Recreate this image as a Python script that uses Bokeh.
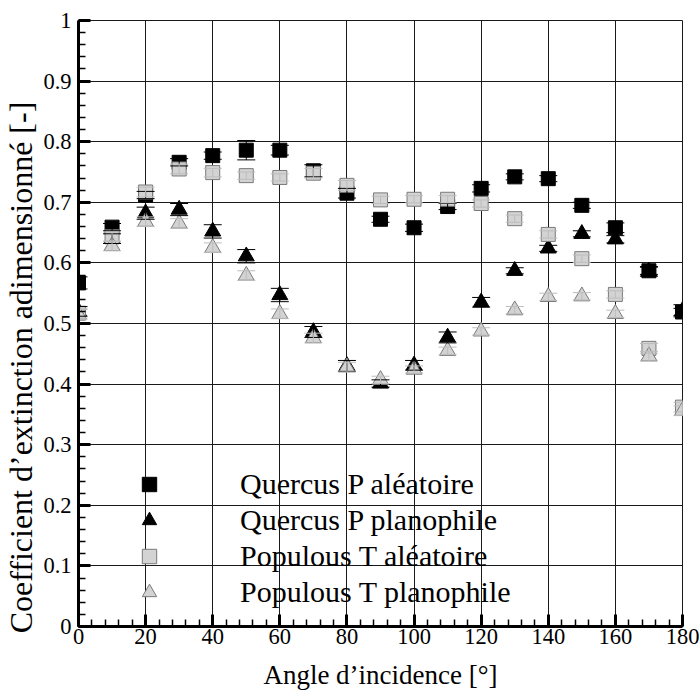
import math
from bokeh.plotting import figure
from bokeh.models import (ColumnDataSource, Range1d, FixedTicker, Whisker, TeeHead,
                          Legend, LegendItem, CustomJSTickFormatter)
from bokeh.embed import file_html
from bokeh.resources import INLINE

# ---- data ----
angles = [0, 10, 20, 30, 40, 50, 60, 70, 80, 90, 100, 110, 120, 130, 140, 150, 160, 170, 180]

quercus_alea = [0.567, 0.659, 0.712, 0.766, 0.777, 0.786, 0.786, 0.752, 0.715, 0.672,
                0.658, 0.693, 0.723, 0.742, 0.739, 0.695, 0.658, 0.587, 0.519]
quercus_alea_err = [0.010, 0.006, 0.006, 0.006, 0.006, 0.016, 0.008, 0.010, 0.008, 0.005,
                    0.006, 0.005, 0.006, 0.005, 0.005, 0.005, 0.008, 0.006, 0.006]

quercus_plan = [0.520, 0.640, 0.682, 0.688, 0.652, 0.611, 0.547, 0.486, 0.430, 0.401,
                0.431, 0.477, 0.535, 0.587, 0.624, 0.648, 0.639, 0.586, 0.521]
quercus_plan_err = [0.008, 0.008, 0.010, 0.010, 0.011, 0.011, 0.011, 0.009, 0.009, 0.006,
                    0.008, 0.009, 0.008, 0.005, 0.005, 0.005, 0.006, 0.008, 0.010]

populous_alea = [0.517, 0.643, 0.717, 0.755, 0.749, 0.744, 0.741, 0.748, 0.728, 0.704,
                 0.705, 0.705, 0.698, 0.673, 0.647, 0.607, 0.548, 0.459, 0.362]
populous_alea_err = [0.008, 0.008, 0.008, 0.008, 0.007, 0.006, 0.006, 0.008, 0.008, 0.006,
                     0.006, 0.006, 0.006, 0.006, 0.006, 0.006, 0.006, 0.008, 0.008]

populous_plan = [0.515, 0.628, 0.668, 0.665, 0.625, 0.579, 0.516, 0.476, 0.428, 0.407,
                 0.424, 0.455, 0.487, 0.522, 0.544, 0.545, 0.516, 0.446, 0.356]
populous_plan_err = [0.008, 0.008, 0.008, 0.008, 0.008, 0.008, 0.008, 0.008, 0.008, 0.006,
                     0.006, 0.006, 0.006, 0.006, 0.006, 0.006, 0.006, 0.008, 0.008]

series_labels = ["Quercus P aléatoire", "Quercus P planophile",
                 "Populous T aléatoire", "Populous T planophile"]

x_ticks = [0, 20, 40, 60, 80, 100, 120, 140, 160, 180]
y_ticks = [0, 0.1, 0.2, 0.3, 0.4, 0.5, 0.6, 0.7, 0.8, 0.9, 1]

x_title = "Angle d’incidence [°]"
y_title = "Coefficient d’extinction adimensionné [-]"

FONT = "Liberation Serif"

p = figure(width=700, height=693, output_backend="svg", toolbar_location=None,
           x_range=Range1d(0, 180), y_range=Range1d(0, 1),
           min_border_left=76, min_border_right=18, min_border_top=20, min_border_bottom=67)
p.background_fill_color = "white"
p.border_fill_color = "white"
p.outline_line_color = "#1a1a1a"
p.outline_line_width = 1

p.xaxis.ticker = FixedTicker(ticks=x_ticks, minor_ticks=list(range(0, 181, 4)))
p.yaxis.ticker = FixedTicker(ticks=y_ticks, minor_ticks=[i / 50 for i in range(51)])
p.xgrid.ticker = FixedTicker(ticks=x_ticks)
p.ygrid.ticker = FixedTicker(ticks=y_ticks)
p.yaxis.formatter = CustomJSTickFormatter(code="return String(Math.round(tick*10)/10)")
p.grid.grid_line_color = "#1a1a1a"
p.grid.grid_line_width = 1

for ax in (p.xaxis[0], p.yaxis[0]):
    ax.axis_line_width = 3
    ax.axis_line_color = "black"
    ax.major_tick_in = 12
    ax.major_tick_out = 0
    ax.major_tick_line_width = 3
    ax.major_tick_line_color = "black"
    ax.minor_tick_in = 7
    ax.minor_tick_out = 0
    ax.minor_tick_line_width = 1.5
    ax.minor_tick_line_color = "black"
    ax.major_label_text_font = FONT
    ax.major_label_text_font_size = "22.5px"
    ax.major_label_text_color = "black"
    ax.axis_label_text_font = FONT
    ax.axis_label_text_font_style = "normal"
    ax.axis_label_text_color = "black"

p.xaxis.major_label_standoff = 2
p.yaxis.major_label_standoff = 7
p.xaxis.axis_label = x_title
p.xaxis.axis_label_text_font_size = "27px"
p.xaxis.axis_label_standoff = 13
# trailing no-break spaces shift the centred title down along the axis, as in the original
p.yaxis.axis_label = y_title + "\u00a0" * 11
p.yaxis.axis_label_text_font_size = "32px"
p.yaxis.axis_label_standoff = 1


def add_series(y, err, marker, size, fill, line, cap):
    src = ColumnDataSource(dict(x=angles, y=y,
                                lo=[v - e for v, e in zip(y, err)],
                                hi=[v + e for v, e in zip(y, err)]))
    r = p.scatter("x", "y", source=src, marker=marker, size=size,
                  fill_color=fill, line_color=line, line_width=1)
    w = Whisker(source=src, base="x", upper="hi", lower="lo", dimension="height",
                line_color=cap, line_width=1, level="glyph",
                upper_head=TeeHead(size=18, line_color=cap, line_width=1),
                lower_head=TeeHead(size=18, line_color=cap, line_width=1))
    p.add_layout(w)
    return r


r1 = add_series(quercus_alea, quercus_alea_err, "square", 14, "black", "black", "black")
r2 = add_series(quercus_plan, quercus_plan_err, "triangle", 16, "black", "black", "black")
r3 = add_series(populous_alea, populous_alea_err, "square", 14, "#d3d3d3", "#7a7a7a", "#bdbdbd")
r4 = add_series(populous_plan, populous_plan_err, "triangle", 16, "#d3d3d3", "#7a7a7a", "#bdbdbd")

legend = Legend(items=[LegendItem(label=lab, renderers=[r])
                       for lab, r in zip(series_labels, [r1, r2, r3, r4])],
                location=(52, 16), padding=0, margin=0, spacing=0,
                glyph_width=38, glyph_height=36, label_height=36, label_standoff=72,
                label_text_font=FONT, label_text_font_size="30px", label_text_color="black",
                border_line_color=None, background_fill_alpha=0)
p.add_layout(legend)

open("out.html", "w").write(file_html(p, INLINE))
